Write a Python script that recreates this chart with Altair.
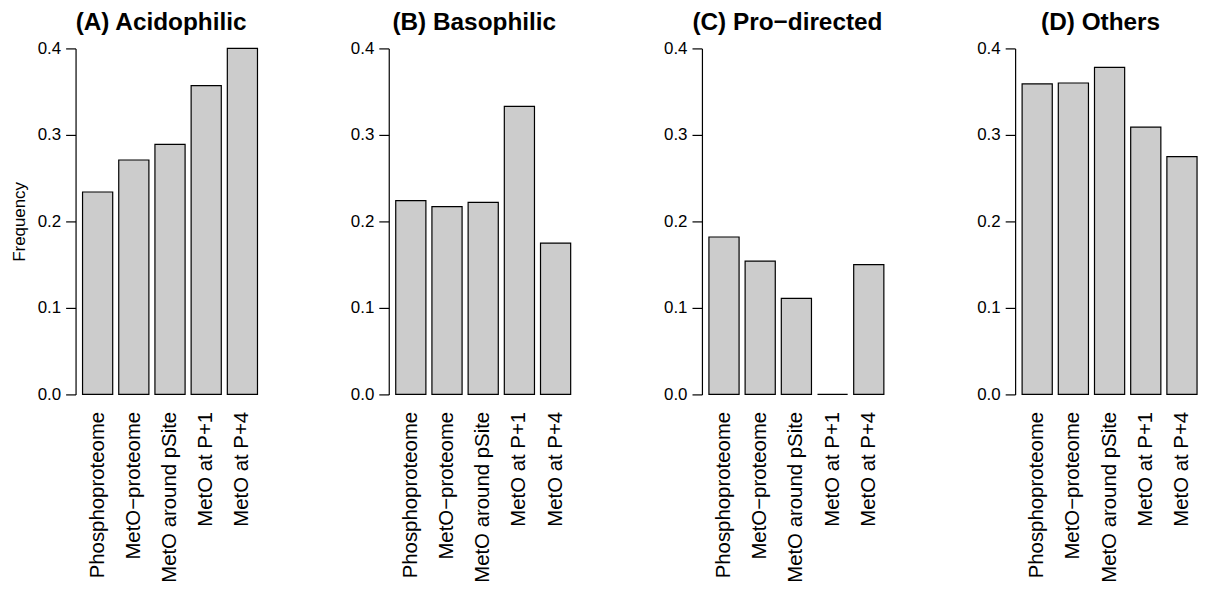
import altair as alt
import pandas as pd

categories = ["Phosphoproteome", "MetO\u2212proteome", "MetO around pSite", "MetO at P+1", "MetO at P+4"]
panel_titles = ["(A) Acidophilic", "(B) Basophilic", "(C) Pro\u2212directed", "(D) Others"]
acidophilic = [0.234, 0.271, 0.289, 0.357, 0.400]
basophilic = [0.224, 0.217, 0.222, 0.333, 0.175]
pro_directed = [0.182, 0.154, 0.111, 0.0, 0.150]
others = [0.359, 0.360, 0.378, 0.309, 0.275]
y_ticks = [0.0, 0.1, 0.2, 0.3, 0.4]

series = [acidophilic, basophilic, pro_directed, others]
FONT = "Liberation Sans"


def panel(title, vals, first):
    df = pd.DataFrame({"category": categories, "value": vals})
    yaxis_kw = dict(
        values=y_ticks, format=".1f", grid=False, tickSize=10, labelPadding=5,
        labelFontSize=17, domainWidth=1.2, tickWidth=1.2,
    )
    if first:
        yaxis_kw.update(title="Frequency", titleFontSize=17, titleFontWeight="normal",
                        titlePadding=9, titleFont=FONT)
    else:
        yaxis_kw.update(title="")
    return (
        alt.Chart(df, title=alt.TitleParams(
            text=title, fontSize=24.5, fontWeight="bold", font=FONT,
            anchor="middle", dx=-9, dy=4, offset=8, color="black"))
        .mark_bar(fill="#cccccc", stroke="black", strokeWidth=1.2)
        .encode(
            x=alt.X("category:N", sort=categories,
                    scale=alt.Scale(paddingInner=0.1667, paddingOuter=0.193),
                    axis=alt.Axis(title=None, domain=False, ticks=False, labelAngle=270,
                                  labelAlign="right", labelBaseline="middle",
                                  labelPadding=17, labelFontSize=20.5, labelLimit=400)),
            y=alt.Y("value:Q", scale=alt.Scale(domain=[0, 0.4], nice=False, zero=True),
                    axis=alt.Axis(**yaxis_kw)),
        )
        .properties(width=190, height=348)
    )


charts = [panel(t, v, i == 0) for i, (t, v) in enumerate(zip(panel_titles, series))]

chart = (
    alt.hconcat(*charts, spacing=86)
    .properties(padding={"left": 10, "top": 8, "right": 5, "bottom": 0}, background="white")
    .configure_view(stroke=None)
    .configure_axis(labelFont=FONT, titleFont=FONT, labelColor="black", titleColor="black",
                    domainColor="black", tickColor="black")
)

chart.save("out.html", embed_options={"renderer": "svg", "actions": False})
